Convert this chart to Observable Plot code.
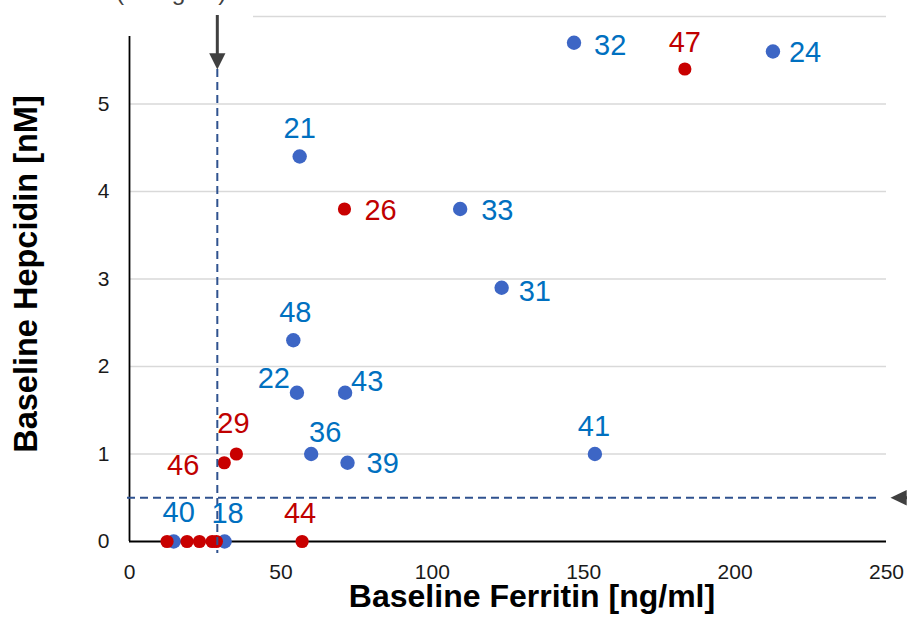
<!DOCTYPE html>
<html><head><meta charset="utf-8">
<script src="https://cdn.jsdelivr.net/npm/d3@7"></script>
<script src="https://cdn.jsdelivr.net/npm/@observablehq/plot@0.6"></script>
<style>
body{margin:0;background:#fff;}
#chart{position:relative;width:907px;height:641px;overflow:hidden;}
</style></head><body><div id="chart"></div>
<script>
// ---- data ----
const patientIds = ["32","47","24","21","26","33","31","48","22","43","36","39","41","29","46","40","18","44","","","","",""];
const ferritin   = [146.8,183.4,212.5,56.2,71.0,109.2,122.9,54.1,55.3,71.2,60.0,72.0,153.7,35.3,31.3,14.6,31.4,57.0,12.4,19.0,23.1,27.3,28.7];
const hepcidin   = [5.7,5.4,5.6,4.4,3.8,3.8,2.9,2.3,1.7,1.7,1.0,0.9,1.0,1.0,0.9,0,0,0,0,0,0,0,0];
const groups     = ["g1","g2","g1","g1","g2","g1","g1","g1","g1","g1","g1","g1","g1","g2","g2","g1","g1","g2","g2","g2","g2","g2","g2"];
const xTicks = [0,50,100,150,200,250];
const yTicks = [0,1,2,3,4,5];
const gridValues = [1,2,3,4,5,6];
const ferritinCutoff = [29];
const hepcidinCutoff = [0.5];
const xTitle = "Baseline Ferritin [ng/ml]";
const yTitle = "Baseline Hepcidin [nM]";
const noteText = "(30 ng/ml)";

// ---- styles / layout ----
const FONT = "Arial, 'Liberation Sans', sans-serif";
const dotColor = {g1: "#3d66c5", g2: "#c80000"};
const textColor = {g1: "#0070c0", g2: "#c00000"};
const dotR = {g1: 7.2, g2: 6.6};
const labelPlacement = {
  "32": ["start", 20, 3],  "47": ["middle", 0, -26], "24": ["start", 16, 1],
  "21": ["middle", 0, -28], "26": ["start", 20, 2], "33": ["start", 21, 2],
  "31": ["start", 17, 4],  "48": ["middle", 2, -28], "22": ["end", -7, -14],
  "43": ["start", 6, -11], "36": ["middle", 14, -21], "39": ["start", 19, 1],
  "41": ["middle", -1, -27], "29": ["middle", -3, -30], "46": ["end", -25, 3],
  "40": ["middle", 5, -29], "18": ["middle", 3, -28], "44": ["middle", -2, -28]
};

const data = ferritin.map((f, i) => ({id: patientIds[i], ferritin: f, hepcidin: hepcidin[i], group: groups[i]}));

const triDown = {draw(ctx, size) { const r = Math.sqrt(size / Math.PI);
  ctx.moveTo(-1.35 * r, -1.2 * r); ctx.lineTo(1.35 * r, -1.2 * r); ctx.lineTo(0, 1.5 * r); ctx.closePath(); }};
const triLeft = {draw(ctx, size) { const r = Math.sqrt(size / Math.PI);
  ctx.moveTo(-1.5 * r, 0); ctx.lineTo(1.2 * r, -1.3 * r); ctx.lineTo(1.2 * r, 1.3 * r); ctx.closePath(); }};

function noteBox(index, scales, values, dimensions) {
  const g = d3.create("svg:g");
  g.append("rect").attr("x", 40).attr("y", -20).attr("width", 213).attr("height", 56).attr("fill", "white");
  g.append("text").attr("x", 116).attr("y", -0.5).attr("text-anchor", "start").attr("font-size", 24.5)
    .attr("font-family", FONT).attr("fill", "#404040").text(noteText);
  return g.node();
}

const labelMarks = data.filter(d => d.id).map(d => {
  const [anchor, dx, dy] = labelPlacement[d.id];
  return Plot.text([d], {x: "ferritin", y: "hepcidin", text: "id", textAnchor: anchor, dx, dy,
    fill: textColor[d.group], fontSize: 29});
});

const chart = Plot.plot({
  width: 907, height: 641,
  marginLeft: 129, marginRight: 21, marginTop: 16, marginBottom: 100,
  x: {domain: [0, 250], axis: null},
  y: {domain: [0, 6], axis: null},
  style: {fontFamily: FONT, fontSize: "18px", background: "white", overflow: "visible"},
  marks: [
    Plot.gridY(gridValues, {stroke: "#d9d9d9", strokeOpacity: 1, strokeWidth: 1.6}),
    Plot.text(yTicks, {y: d => d, text: d => String(d), frameAnchor: "left", textAnchor: "end", lineAnchor: "middle", dx: -20, fontSize: 21, fill: "#1a1a1a"}),
    Plot.text(xTicks, {x: d => d, text: d => String(d), frameAnchor: "bottom", textAnchor: "middle", lineAnchor: "middle", dy: 31, fontSize: 21, fill: "#1a1a1a"}),
    Plot.ruleY([0], {stroke: "#000", strokeWidth: 1.8}),
    Plot.ruleX([0], {stroke: "#000", strokeWidth: 1.8}),
    noteBox,
    Plot.ruleX(ferritinCutoff, {stroke: "#404040", strokeWidth: 3, insetTop: -1, insetBottom: 487}),
    Plot.dot(ferritinCutoff, {x: d => d, frameAnchor: "top", dy: 44, symbol: triDown, r: 6, fill: "#404040", stroke: null}),
    Plot.ruleY(hepcidinCutoff, {stroke: "#404040", strokeWidth: 3, insetLeft: 770, insetRight: -40}),
    Plot.dot(hepcidinCutoff, {y: d => d, frameAnchor: "right", dx: 13, symbol: triLeft, r: 6, fill: "#404040", stroke: null}),
    Plot.dot(data.filter(d => d.group === "g1"), {x: "ferritin", y: "hepcidin", r: dotR.g1, fill: dotColor.g1, stroke: null}),
    Plot.dot(data.filter(d => d.group === "g2"), {x: "ferritin", y: "hepcidin", r: dotR.g2, fill: dotColor.g2, stroke: null}),
    Plot.ruleX(ferritinCutoff, {stroke: "#2f528f", strokeWidth: 2, strokeDasharray: "8,5", insetTop: 53, insetBottom: -12}),
    Plot.ruleY(hepcidinCutoff, {stroke: "#2f528f", strokeWidth: 2, strokeDasharray: "8,5", insetLeft: -2, insetRight: 5}),
    ...labelMarks,
    Plot.text([xTitle], {frameAnchor: "bottom", textAnchor: "middle", lineAnchor: "middle", dx: 24, dy: 55, fontSize: 32, fontWeight: "bold", fill: "#000"}),
    Plot.text([yTitle], {frameAnchor: "left", textAnchor: "middle", lineAnchor: "middle", rotate: -90, dx: -103, dy: -5, fontSize: 32.5, fontWeight: "bold", fill: "#000"})
  ]
});
document.getElementById("chart").appendChild(chart);
</script>
</body></html>
